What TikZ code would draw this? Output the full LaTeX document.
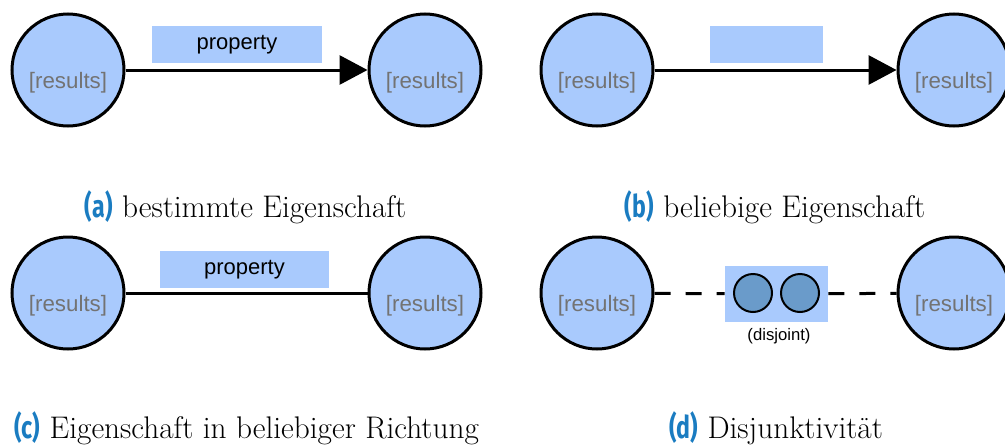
\documentclass[tikz,border=0pt]{standalone}
\usepackage{fontspec}
\usetikzlibrary{arrows.meta}

\newfontfamily\arialfont{Liberation Sans}
\newfontfamily\subfont[FakeStretch=0.74]{Fira Sans}

\definecolor{nodeblue}{HTML}{A9CAFD}
\definecolor{setblue}{HTML}{6A9BCA}
\definecolor{resgrey}{HTML}{737373}
\definecolor{subblue}{HTML}{1A7CC1}

\tikzset{
  result/.style={circle, draw=black, line width=0.06cm, fill=nodeblue,
    minimum size=2.24cm, inner sep=0pt, text=resgrey,
    text height=0.74cm, text depth=0pt,
    font=\arialfont\fontsize{12.7}{15}\selectfont},
  propbox/.style={rectangle, fill=nodeblue, draw=none, inner sep=0pt,
    minimum height=0.74cm, font=\arialfont\fontsize{12.5}{15}\selectfont},
  setnode/.style={circle, draw=black, line width=0.04cm, fill=setblue,
    minimum size=0.76cm, inner sep=0pt},
  relation/.style={line width=0.06cm},
  directed/.style={relation, -{Triangle[length=0.56cm,width=0.58cm]}},
  disjoint/.style={relation, dash pattern=on 0.32cm off 0.30cm},
  subcap/.style={font=\fontsize{17.8}{21}\selectfont, inner sep=0pt},
}

\newcommand{\sublabel}[1]{{\subfont\bfseries\color{subblue}(#1)}}

\begin{document}
\begin{tikzpicture}
  \useasboundingbox (0,0) rectangle (20.10,8.94);
  \clip (0,0) rectangle (20.10,8.94);

  % (a) named property
  \node [result] (a1) at (1.36,7.54) {[results]};
  \node [result] (a2) at (8.50,7.54) {[results]};
  \node [propbox, minimum width=3.40cm] (aprop) at (4.74,8.05) {property};
  \draw [directed] (a1) -- (a2);
  \node [subcap] (acap) at (4.91,4.80) {\sublabel{a} bestimmte Eigenschaft};

  % (b) any property
  \node [result] (b1) at (11.94,7.54) {[results]};
  \node [result] (b2) at (19.08,7.54) {[results]};
  \node [propbox, minimum width=2.26cm] (bprop) at (15.33,8.05) {};
  \draw [directed] (b1) -- (b2);
  \node [subcap] (bcap) at (15.50,4.80) {\sublabel{b} beliebige Eigenschaft};

  % (c) property without direction
  \node [result] (c1) at (1.36,3.08) {[results]};
  \node [result] (c2) at (8.50,3.08) {[results]};
  \node [propbox, minimum width=3.38cm] (cprop) at (4.89,3.55) {property};
  \draw [relation] (c1) -- (c2);
  \node [subcap] (ccap) at (4.93,0.37) {\sublabel{c} Eigenschaft in beliebiger Richtung};

  % (d) disjointness
  \node [result] (d1) at (11.94,3.08) {[results]};
  \node [result] (d2) at (19.08,3.08) {[results]};
  \node [propbox, minimum width=2.06cm, minimum height=1.12cm] (dbox) at (15.53,3.06) {};
  \node [setnode] (s1) at (15.06,3.08) {};
  \node [setnode] (s2) at (16.00,3.08) {};
  \node [font=\arialfont\fontsize{9.5}{11}\selectfont, inner sep=0pt] (dnote) at (15.58,2.22) {(disjoint)};
  \draw [disjoint] (d1) -- (dbox);
  \draw [disjoint] (dbox) -- (d2);
  \node [subcap] (dcap) at (15.52,0.37) {\sublabel{d} Disjunktivität};
\end{tikzpicture}
\end{document}
